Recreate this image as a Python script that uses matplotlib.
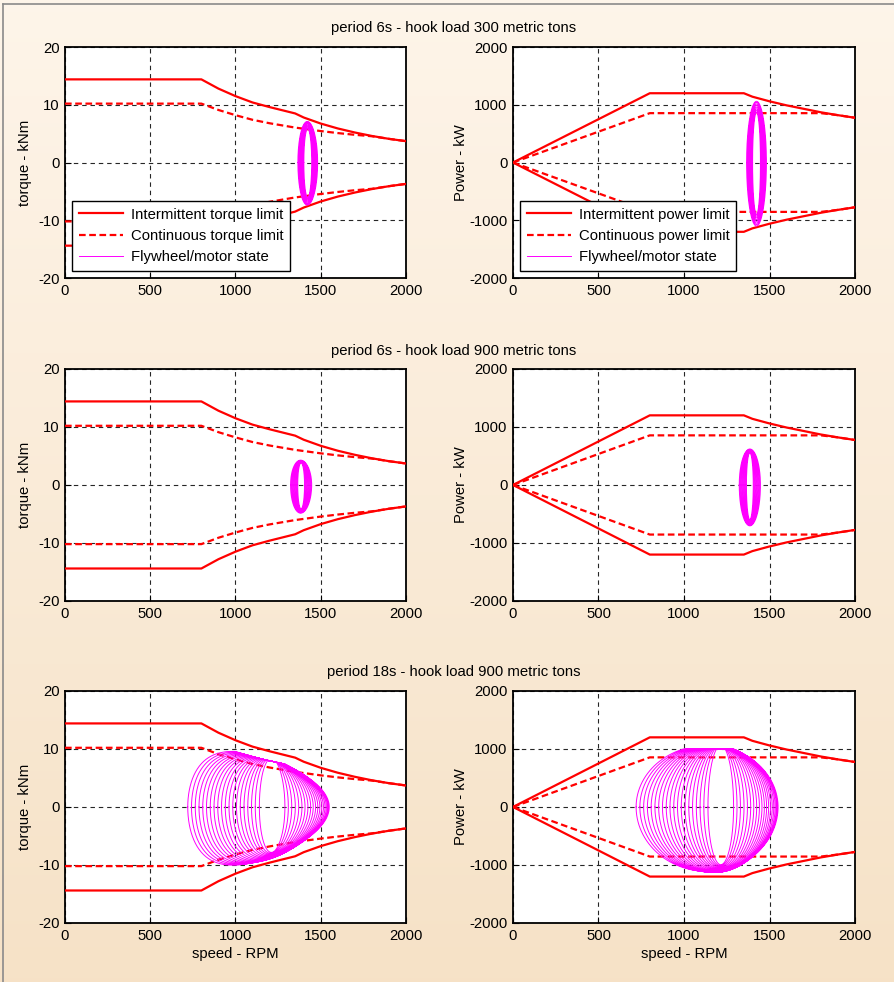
import numpy as np
import matplotlib
matplotlib.use("Agg")
import matplotlib.pyplot as plt
from matplotlib.lines import Line2D

plt.rcParams['font.family'] = ['Liberation Sans', 'DejaVu Sans']
plt.rcParams['axes.unicode_minus'] = False
FS = 10.7

# drive limits
speed_pts = [0, 800, 900, 1000, 1100, 1200, 1350, 1400, 1500, 1600, 1700, 1800, 1900, 2000]
int_torque = [14.4, 14.4, 12.8, 11.5, 10.4, 9.6, 8.5, 7.8, 6.75, 5.9, 5.2, 4.6, 4.1, 3.7]
cont_torque = [10.2, 10.2, 9.1, 8.2, 7.4, 6.8, 6.05, 5.85, 5.45, 5.1, 4.8, 4.55, 4.1, 3.7]
int_power = [0, 1200, 1200, 1200, 1200, 1200, 1200, 1140, 1060, 990, 930, 870, 820, 775]
cont_power = [0, 855, 855, 855, 855, 855, 855, 855, 855, 855, 855, 855, 820, 775]

titles = ["period 6s - hook load 300 metric tons",
          "period 6s - hook load 900 metric tons",
          "period 18s - hook load 900 metric tons"]

# flywheel cycles: speed extremes (RPM) and power peaks (kW) of each loop
r1_low = [1366, 1371, 1376, 1381, 1386, 1391, 1396, 1401]
r1_high = [1482, 1477, 1472, 1467, 1462, 1457, 1452, 1447]
r1_ppos = [1060, 1040, 1015, 990, 960, 930, 900, 870]
r1_pneg = [-1100, -1075, -1050, -1020, -990, -960, -930, -900]

r2_low = [1323, 1329, 1335, 1341, 1347, 1353, 1359, 1365]
r2_high = [1447, 1441, 1435, 1429, 1423, 1417, 1411, 1405]
r2_ppos = [620, 612, 604, 596, 588, 578, 566, 554]
r2_pneg = [-705, -692, -680, -666, -650, -634, -616, -598]

r3_low = [720, 742, 764, 786, 808, 830, 852, 874, 896, 918,
          940, 962, 984, 1006, 1028, 1050, 1072, 1094, 1116, 1140]
r3_high = [1550, 1545, 1540, 1533, 1525, 1516, 1506, 1495, 1483, 1470,
           1456, 1441, 1425, 1408, 1390, 1371, 1351, 1330, 1310, 1290]
r3_ppos = [1060] * 20
r3_pneg = [-1110, -1115, -1120, -1124, -1128, -1130, -1130, -1128, -1124, -1118,
           -1110, -1100, -1090, -1080, -1068, -1055, -1040, -1025, -1010, -995]
r3_pclip = 1000

cycles = [(r1_low, r1_high, r1_ppos, r1_pneg, None),
          (r2_low, r2_high, r2_ppos, r2_pneg, None),
          (r3_low, r3_high, r3_ppos, r3_pneg, r3_pclip)]


def trajectory(low, high, ppos, pneg, clip):
    th = np.linspace(0, 2 * np.pi, 241)
    sp, pw = [], []
    for lo, hi, pp, pn in zip(low, high, ppos, pneg):
        c, a = (lo + hi) / 2, (hi - lo) / 2
        s = np.sin(th)
        p = np.where(s > 0, s * pp, -s * pn)
        if clip is not None:
            p = np.minimum(p, clip)
        sp += [c - a * np.cos(th), [np.nan]]
        pw += [p, [np.nan]]
    sp = np.concatenate(sp)
    pw = np.concatenate(pw)
    return sp, pw, pw * 60 / (2 * np.pi * sp)


fig = plt.figure(figsize=(8.94, 9.82), dpi=100)

# beige gradient background
bg = fig.add_axes([0, 0, 1, 1], zorder=-10)
grad = np.linspace(0, 1, 256)[:, None]
top = np.array([0.996, 0.960, 0.915])
bot = np.array([0.965, 0.886, 0.780])
img = top[None, None, :] * (1 - grad[:, :, None]) + bot[None, None, :] * grad[:, :, None]
bg.imshow(img, aspect='auto', extent=[0, 1, 0, 1])
bg.set_axis_off()
fig.add_artist(Line2D([0.0035, 0.0035], [0, 0.996], color='#8a8a8a', lw=1.2))
fig.add_artist(Line2D([0.0035, 1], [0.996, 0.996], color='#8a8a8a', lw=1.2))

left_x = [0.0727, 0.5738]
widths = [0.3814, 0.3826]
row_y = [0.7169, 0.3880, 0.0601]
row_h = [0.2352, 0.2363, 0.2363]
title_y = [0.9715, 0.6425, 0.3155]

grid_kw = dict(color='0.15', lw=0.8, linestyle=(0, (4, 3.5)))
red_dash = (0, (3, 1.6))

for r in range(3):
    sp, pw, tq = trajectory(*cycles[r])
    fig.text(0.507, title_y[r], titles[r], ha='center', va='center', fontsize=FS)
    for c in range(2):
        ax = fig.add_axes([left_x[c], row_y[r], widths[c], row_h[r]])
        ax.set_facecolor('white')
        if c == 0:
            lim_i, lim_c, y = int_torque, cont_torque, tq
            what = 'torque'
            ax.set_ylim(-20, 20)
            ax.set_yticks([-20, -10, 0, 10, 20])
            ax.set_ylabel('torque - kNm', fontsize=FS, labelpad=4)
        else:
            lim_i, lim_c, y = int_power, cont_power, pw
            what = 'power'
            ax.set_ylim(-2000, 2000)
            ax.set_yticks([-2000, -1000, 0, 1000, 2000])
            ax.set_ylabel('Power - kW', fontsize=FS, labelpad=1)
        ax.plot(speed_pts, lim_i, color='#ff0000', lw=1.6,
                label='Intermittent %s limit' % what, zorder=3)
        ax.plot(speed_pts, [-v for v in lim_i], color='#ff0000', lw=1.6, zorder=3)
        ax.plot(speed_pts, lim_c, color='#ff0000', lw=1.6, linestyle=red_dash,
                label='Continuous %s limit' % what, zorder=3)
        ax.plot(speed_pts, [-v for v in lim_c], color='#ff0000', lw=1.6,
                linestyle=red_dash, zorder=3)
        ax.plot(sp, y, color='#ff00ff', lw=0.7, label='Flywheel/motor state', zorder=4)

        ax.set_xlim(0, 2000)
        ax.set_xticks([0, 500, 1000, 1500, 2000])
        ax.grid(True, **grid_kw)
        ax.set_axisbelow(True)
        ax.tick_params(direction='in', length=4, labelsize=FS, pad=4)
        for s in ax.spines.values():
            s.set_linewidth(1.3)
            s.set_color('black')
        if r == 2:
            ax.set_xlabel('speed - RPM', fontsize=FS, labelpad=3)
        if r == 0:
            leg = ax.legend(loc='lower left', bbox_to_anchor=(0.02, 0.03),
                            borderaxespad=0, fontsize=FS, handlelength=3.0,
                            handletextpad=0.5, labelspacing=0.5,
                            fancybox=False, framealpha=1, edgecolor='black',
                            borderpad=0.45)
            leg.get_frame().set_linewidth(1.0)

fig.savefig('out.png', dpi=100)
